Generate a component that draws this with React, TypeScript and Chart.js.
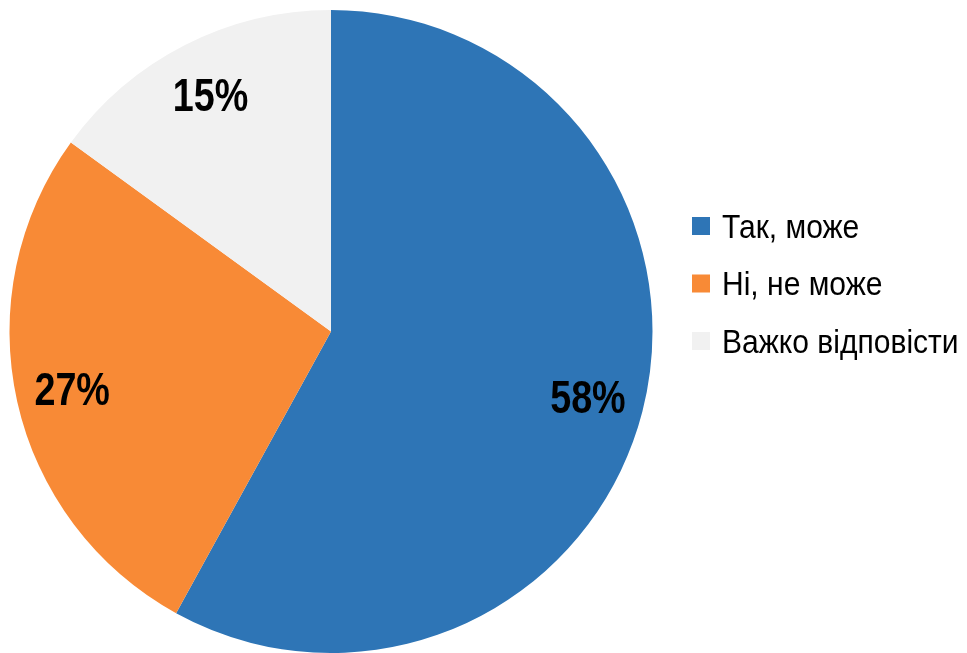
import React, { useEffect, useRef } from "react";
import { Chart, registerables } from "chart.js";

Chart.register(...registerables);

const categories: string[] = ["Так, може", "Ні, не може", "Важко відповісти"];
const values: number[] = [58, 27, 15];
const colors: string[] = ["#2E75B6", "#F88A36", "#F1F1F1"];

const FONT = "'Liberation Sans', Arial, sans-serif";

function narrowText(
  ctx: CanvasRenderingContext2D,
  text: string,
  x: number,
  y: number,
  align: "left" | "center",
  factor: number
) {
  ctx.save();
  ctx.translate(x, y);
  ctx.scale(factor, 1);
  ctx.textAlign = align;
  ctx.fillText(text, 0, 0);
  ctx.restore();
}

const labelPlugin = {
  id: "sliceLabels",
  afterDatasetsDraw(chart: any) {
    const ctx = chart.ctx;
    const meta = chart.getDatasetMeta(0);
    const data = chart.data.datasets[0].data as number[];
    ctx.save();
    ctx.font = `bold 46px ${FONT}`;
    ctx.fillStyle = "#000";
    ctx.textBaseline = "alphabetic";
    meta.data.forEach((arc: any, i: number) => {
      const p = arc.getProps(["x", "y", "startAngle", "endAngle", "outerRadius"], true);
      const mid = (p.startAngle + p.endAngle) / 2;
      const r = p.outerRadius * 0.825;
      const cx = p.x + Math.cos(mid) * r;
      const cy = p.y + Math.sin(mid) * r;
      narrowText(ctx, `${data[i]}%`, cx, cy + 16, "center", 0.82);
    });
    ctx.restore();
  },
};

const legendPlugin = {
  id: "sideLegend",
  afterDraw(chart: any) {
    const ctx = chart.ctx;
    const ds = chart.data.datasets[0];
    const labels = chart.data.labels as string[];
    const x0 = chart.chartArea.right + 39;
    const gap = 57.5;
    ctx.save();
    ctx.font = `33px ${FONT}`;
    ctx.textBaseline = "alphabetic";
    labels.forEach((lab, i) => {
      const y = 226 + i * gap;
      ctx.fillStyle = (ds.backgroundColor as string[])[i];
      ctx.fillRect(x0, y - 9, 18, 18);
      ctx.fillStyle = "#000";
      narrowText(ctx, lab, x0 + 30, y + 11.5, "left", 0.91);
    });
    ctx.restore();
  },
};

export default function App() {
  const ref = useRef<HTMLCanvasElement | null>(null);
  useEffect(() => {
    document.body.style.margin = "0";
    const chart = new Chart(ref.current!, {
      type: "pie",
      data: {
        labels: categories,
        datasets: [
          {
            data: values,
            backgroundColor: colors,
            borderWidth: 0,
          },
        ],
      },
      options: {
        responsive: false,
        animation: false,
        layout: { padding: { left: 9, top: 10, right: 314, bottom: 0 } },
        plugins: {
          legend: { display: false },
          tooltip: { enabled: false },
        },
      },
      plugins: [labelPlugin, legendPlugin],
    });
    return () => chart.destroy();
  }, []);
  return (
    <div style={{ position: "absolute", left: 0, top: 0, width: 967, height: 653 }}>
      <canvas ref={ref} width={967} height={653} />
    </div>
  );
}
